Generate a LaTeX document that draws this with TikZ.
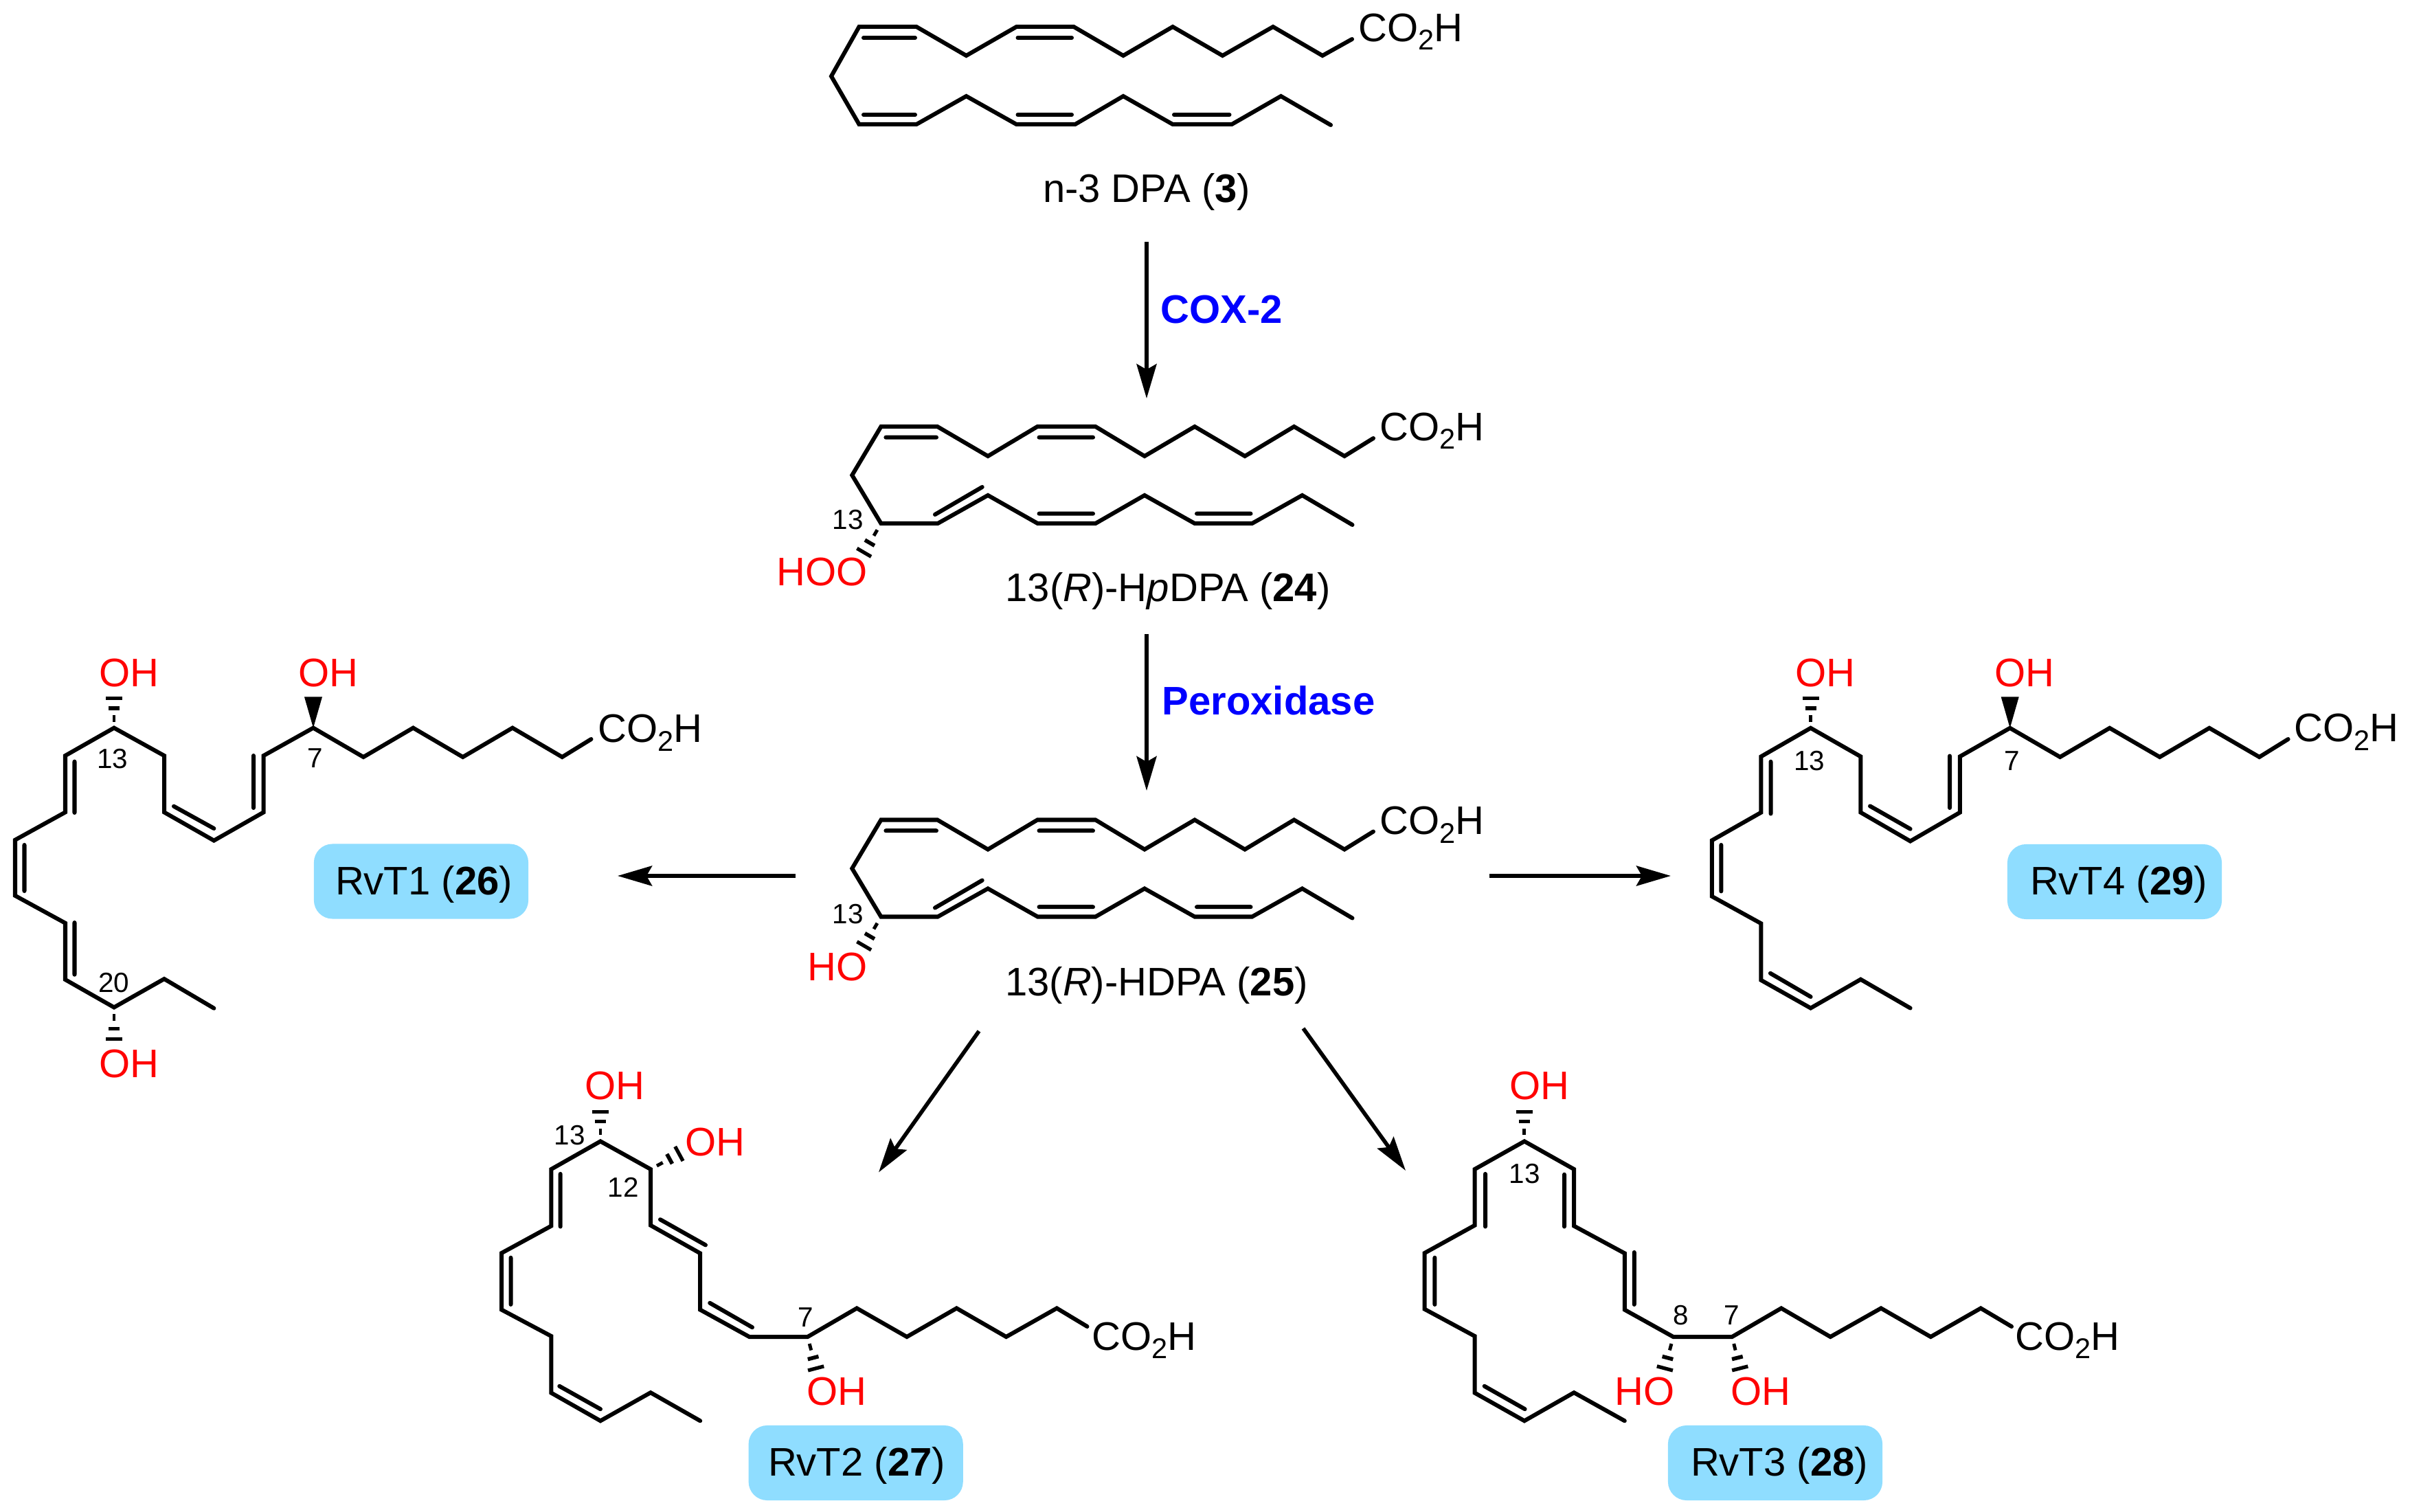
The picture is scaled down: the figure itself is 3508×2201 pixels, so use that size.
\documentclass[tikz,border=0pt]{standalone}
\usepackage{fontspec}
\setmainfont{Liberation Sans}
\usepackage{tikz}
\usetikzlibrary{arrows.meta,calc}
\definecolor{rvtblue}{HTML}{8FDDFF}
\newcommand{\cooh}{CO\raisebox{-.12cm}{\fontsize{11.8}{12}\selectfont 2}H}
\newcommand{\hashbond}[2]{%
  \foreach \t/\w/\lw in {0.29/0.7pt/2.8pt,0.6/2.3pt/1.6pt,0.9/3.4pt/1.5pt}{%
    \coordinate (hm) at ($(#1)!\t!(#2)$);
    \draw[line width=\lw] ($(hm)!\w!90:(#2)$) -- ($(hm)!\w!-90:(#2)$);
  }}

\begin{document}
\begin{tikzpicture}[x=0.01cm,y=-0.01cm,
  bond/.style={line width=0.6mm,line join=miter,line cap=round},
  rxn/.style={-{Stealth[length=5mm,width=2.9mm,inset=0.8mm]},line width=0.57mm},
  txt/.style={inner sep=0pt,font=\fontsize{16.5}{18}\selectfont},
  lab/.style={txt,anchor=base},
  atm/.style={txt,anchor=base west},
  oh/.style={atm,text=red},
  num/.style={inner sep=0pt,anchor=base,font=\fontsize{11.5}{13}\selectfont},
  enz/.style={atm,text=blue,font=\fontsize{16.5}{18}\selectfont\bfseries},
  rvtbox/.style={fill=rvtblue,rounded corners=0.27cm,minimum width=3.12cm,minimum height=1.09cm,inner sep=0pt}]
\useasboundingbox (0,0) rectangle (3508,2201);

% n-3 DPA
\draw[bond] (1968,57) -- (1925,81) -- (1853,39) -- (1779.5,81) -- (1707,39) -- (1635,81) -- (1563,39) -- (1479.5,39) -- (1406.5,81) -- (1334,39) -- (1250.5,39) -- (1210,111) -- (1250.5,181) -- (1334,181) -- (1406.5,140) -- (1479.5,181) -- (1565,181) -- (1635,140) -- (1707,181) -- (1793,181) -- (1864.5,140) -- (1937,182);
\draw[bond] (1257,55) -- (1332,55) (1481.5,55) -- (1560,55) (1257,167) -- (1332,167) (1481.5,167) -- (1560,167) (1709,167) -- (1789.5,167);
\node[atm] (coohdpa) at (1977,61) {\cooh};
\node[lab] (ndpa) at (1669,295) {n-3 DPA (\textbf{3})};

% 13(R)-HpDPA and 13(R)-HDPA
\foreach \dy in {0,572.5}{
\begin{scope}[shift={(0,\dy)}]
\draw[bond] (1999,638) -- (1957,664) -- (1883.6,621) -- (1812,664) -- (1739,621) -- (1666,664) -- (1594.6,621) -- (1510,621) -- (1438,664) -- (1364.5,621) -- (1282.4,621) -- (1240.3,691.7) -- (1282.4,762) -- (1365,762) -- (1438,721) -- (1510.4,762) -- (1594.6,762) -- (1666,721) -- (1739,762) -- (1822.5,762) -- (1895.5,721) -- (1968.5,764);
\draw[bond] (1289.4,636.7) -- (1363,636.7) (1512.5,636.7) -- (1591,636.7) (1361,749) -- (1429.7,709) (1512.5,747.7) -- (1591,747.7) (1742,747.7) -- (1820.5,747.7);
\hashbond{1282.4,762}{1255,809}
\end{scope}}
\node[atm] (coohhp) at (2008,642) {\cooh};
\node[num] (chp) at (1234,771) {13};
\node[oh] (hoo) at (1130,853) {HOO};
\node[lab] (hpdpa) at (1700,876) {13(\textit{R})-H\textit{p}DPA (\textbf{24})};
\node[atm] (coohh) at (2008,1215) {\cooh};
\node[num] (ch) at (1234,1344) {13};
\node[oh] (hoh) at (1175,1427) {HO};
\node[lab] (hdpa) at (1683.5,1449) {13(\textit{R})-HDPA (\textbf{25})};

% RvT1
\draw[bond] (860.5,1076) -- (818.3,1102) -- (746,1059.6) -- (673.7,1102) -- (601.4,1059.6) -- (529,1102) -- (456,1059.6) -- (383.7,1100) -- (383.7,1182.4) -- (311.4,1223.6) -- (239,1182.4) -- (239,1100) -- (166,1059.6) -- (95,1100) -- (95,1182.4) -- (22,1222.7) -- (22,1303.8) -- (95,1343.7) -- (95,1426) -- (166,1466.4) -- (239,1425) -- (311.4,1467.7);
\draw[bond] (369,1100) -- (369,1176) (253,1173.7) -- (311.4,1206) (108.5,1108.6) -- (108.5,1183) (35.5,1230) -- (35.5,1297) (108.5,1343) -- (108.5,1418.7);
\hashbond{166,1059.6}{166,1011.6}
\hashbond{166,1466.4}{166,1518}
\fill (456,1059.6) -- (443,1014.5) -- (469,1014.5) -- cycle;
\node[oh] (ohta) at (144,1000) {OH};
\node[oh] (ohtb) at (434,1000) {OH};
\node[oh] (ohtc) at (144,1568) {OH};
\node[atm] (coohta) at (870,1081) {\cooh};
\node[num] (cta) at (164,1118.6) {13};
\node[num] (ctb) at (458.5,1118) {7};
\node[num] (ctc) at (166,1444.7) {20};
\node[rvtbox] (boxt) at (613,1283) {};
\node[lab] (rvtone) at (617,1302) {RvT1 (\textbf{26})};

% RvT4
\draw[bond] (3330.6,1076) -- (3288.7,1102) -- (3215.9,1059.8) -- (3143.7,1102) -- (3070.8,1059.8) -- (2998.6,1102) -- (2925.7,1059.8) -- (2852.8,1101.3) -- (2852.8,1182.7) -- (2780.6,1224.5) -- (2708.4,1182.7) -- (2708.4,1101.3) -- (2635.6,1059.8) -- (2563.4,1101.3) -- (2563.4,1182.7) -- (2491.8,1223.4) -- (2491.8,1304.8) -- (2563.4,1344.3) -- (2563.4,1426.8) -- (2635.6,1467.5) -- (2708.4,1425.7) -- (2780.6,1467.5);
\draw[bond] (2838,1100.5) -- (2838,1176) (2722,1173.4) -- (2780.6,1206.7) (2577.5,1108.7) -- (2577.5,1184.5) (2505.3,1230) -- (2505.3,1297.4) (2576.9,1416.8) -- (2635.6,1451);
\hashbond{2635.6,1059.8}{2635.6,1011.8}
\fill (2925.7,1059.8) -- (2912.7,1014.5) -- (2938.7,1014.5) -- cycle;
\node[oh] (ohfa) at (2613,1000) {OH};
\node[oh] (ohfb) at (2903,1000) {OH};
\node[atm] (coohf) at (3339,1080) {\cooh};
\node[num] (cfa) at (2633.6,1122) {13};
\node[num] (cfb) at (2928.5,1122) {7};
\node[rvtbox] (boxf) at (3078,1283.5) {};
\node[lab] (rvtfour) at (3084,1302) {RvT4 (\textbf{29})};

% RvT2
\draw[bond] (1582.5,1931) -- (1538.3,1904.4) -- (1464.6,1946) -- (1392.4,1904.4) -- (1320,1946) -- (1247.2,1904.4) -- (1175.6,1946) -- (1090.7,1946) -- (1019.2,1906.6) -- (1019.2,1824.4) -- (947,1783.7) -- (947,1702) -- (874,1661.4) -- (802.4,1702) -- (802.4,1784.6) -- (730.2,1824) -- (730.2,1906.6) -- (802.4,1945) -- (802.4,2027.6) -- (874,2068.3) -- (947,2027.2) -- (1019.2,2068.3);
\draw[bond] (815.7,1708.9) -- (815.7,1785.5) (961,1775.2) -- (1027,1812.4) (743.5,1830.8) -- (743.5,1898.9) (1033.2,1896.7) -- (1095,1932.2) (814.3,2017.8) -- (874,2051.2);
\hashbond{874,1661.4}{874,1613.4}
\hashbond{947,1702}{993,1677}
\hashbond{1175.6,1946}{1189,1997}
\node[oh] (ohsa) at (851,1600.6) {OH};
\node[oh] (ohsb) at (997,1682) {OH};
\node[oh] (ohsc) at (1174,2045) {OH};
\node[atm] (coohs) at (1589,1965.6) {\cooh};
\node[num] (csa) at (829,1666) {13};
\node[num] (csb) at (907,1742.7) {12};
\node[num] (csc) at (1173,1931) {7};
\node[rvtbox] (boxs) at (1245.7,2129.5) {};
\node[lab] (rvttwo) at (1247,2148) {RvT2 (\textbf{27})};

% RvT3
\draw[bond] (2928,1931) -- (2883.2,1904.4) -- (2810.3,1946) -- (2738,1904.4) -- (2664.3,1946) -- (2592.8,1904.4) -- (2521.2,1946) -- (2435.6,1946) -- (2364.8,1906.6) -- (2364.8,1824.4) -- (2291.1,1784.6) -- (2291.1,1702) -- (2218.9,1661.4) -- (2146.6,1702) -- (2146.6,1783.7) -- (2073.7,1824) -- (2073.7,1905.7) -- (2146.6,1945) -- (2146.6,2027.6) -- (2218.9,2068.3) -- (2291.1,2027.2) -- (2364.8,2068.3);
\draw[bond] (2162,1708.9) -- (2162,1785.5) (2277,1709.7) -- (2277,1785.5) (2378.8,1823) -- (2378.8,1898.9) (2088.4,1830.8) -- (2088.4,1898.9) (2160.7,2017.8) -- (2219.6,2051.2);
\hashbond{2218.9,1661.4}{2218.9,1613.4}
\hashbond{2435.6,1946}{2422,1997}
\hashbond{2521.2,1946}{2534,1997}
\node[oh] (ohra) at (2197,1600.6) {OH};
\node[oh] (ohrb) at (2350,2045.5) {HO};
\node[oh] (ohrc) at (2519,2045.5) {OH};
\node[atm] (coohr) at (2933,1965.6) {\cooh};
\node[num] (cra) at (2219.4,1722.6) {13};
\node[num] (crb) at (2447,1928) {8};
\node[num] (crc) at (2521,1928) {7};
\node[rvtbox] (boxr) at (2584,2129.5) {};
\node[lab] (rvtthree) at (2590,2148) {RvT3 (\textbf{28})};

% reaction arrows
\coordinate (coxs) at (1669,352);
\coordinate (coxe) at (1669,580);
\coordinate (pers) at (1669,923);
\coordinate (pere) at (1669,1151);
\coordinate (lfts) at (1158,1275);
\coordinate (lfte) at (899,1275);
\coordinate (rgts) at (2168,1275);
\coordinate (rgte) at (2432,1275);
\coordinate (dls) at (1425,1501);
\coordinate (dle) at (1279,1706.5);
\coordinate (drs) at (1897,1497);
\coordinate (dre) at (2046,1704);
\draw[rxn] (coxs) -- (coxe);
\draw[rxn] (pers) -- (pere);
\draw[rxn] (lfts) -- (lfte);
\draw[rxn] (rgts) -- (rgte);
\draw[rxn] (dls) -- (dle);
\draw[rxn] (drs) -- (dre);
\node[enz] (cox) at (1689,471) {COX-2};
\node[enz] (perox) at (1691,1041) {Peroxidase};
\end{tikzpicture}
\end{document}
